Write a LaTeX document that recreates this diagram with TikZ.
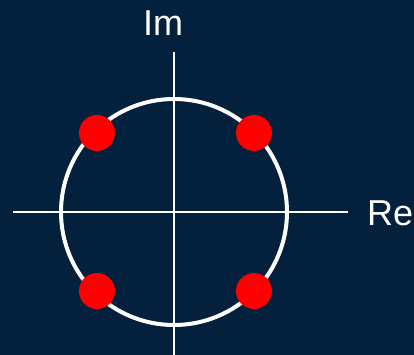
\documentclass[tikz,border=0pt]{standalone}
\usepackage{fontspec}
\setmainfont{Liberation Sans}
\definecolor{bgnavy}{HTML}{03203D}
\definecolor{dotred}{HTML}{FF0000}
\begin{document}
\begin{tikzpicture}[x=1pt,y=-1pt,
  axis/.style={draw=white,line width=1.6pt},
  unitcircle/.style={draw=white,line width=4pt},
  root/.style={circle,fill=dotred,inner sep=0pt,minimum size=36pt},
  lbl/.style={text=white,font=\fontsize{36}{42}\selectfont,inner sep=0pt,anchor=base west}]
\fill[bgnavy] (0,0) rectangle (414,355);
\useasboundingbox (0,0) rectangle (414,355);
\coordinate (o) at (174,212);
\coordinate (xl) at (13,212);
\coordinate (xr) at (348,212);
\coordinate (yt) at (174,52);
\coordinate (yb) at (174,355);
\draw[axis] (xl) -- (xr);
\draw[axis] (yt) -- (yb);
\draw[unitcircle] (o) circle[radius=113];
\node[root] (r1) at (97,133) {};
\node[root] (r2) at (254,133) {};
\node[root] (r3) at (97,291) {};
\node[root] (r4) at (254,291) {};
\node[lbl] (im) at (143,36) {Im};
\node[lbl] (re) at (367,225) {Re};
\end{tikzpicture}
\end{document}
